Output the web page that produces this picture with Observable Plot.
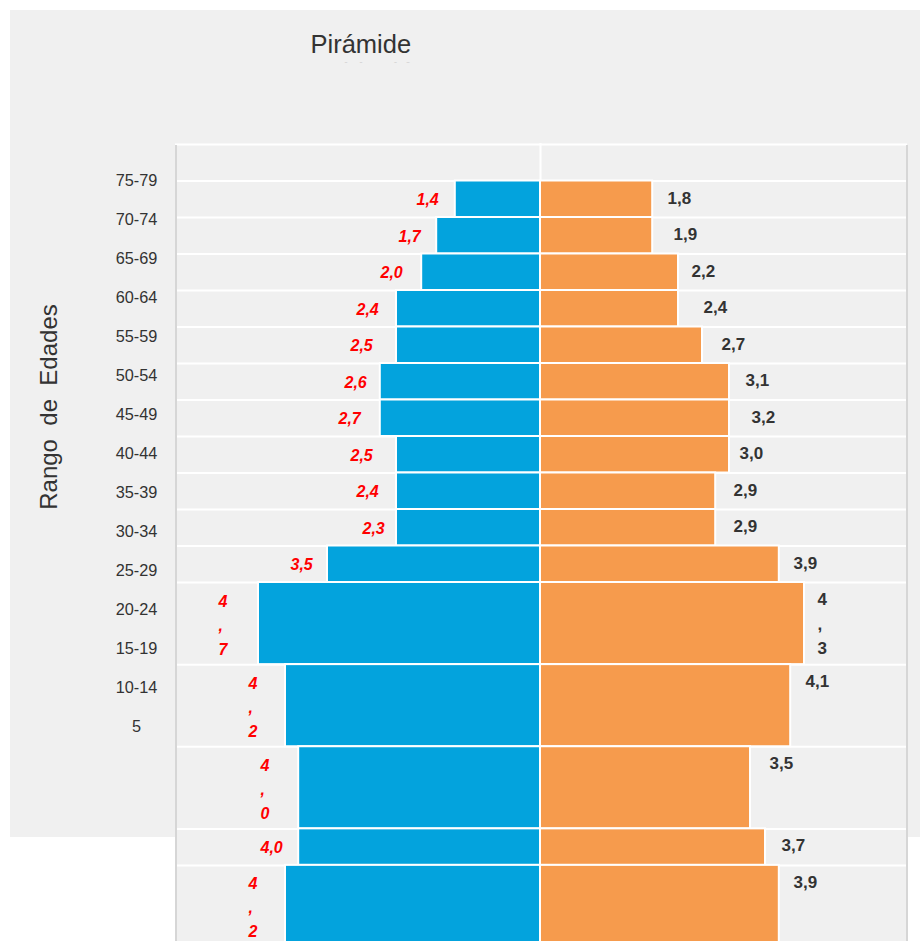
<!DOCTYPE html>
<html><head><meta charset="utf-8">
<script src="https://cdn.jsdelivr.net/npm/d3@7"></script>
<script src="https://cdn.jsdelivr.net/npm/@observablehq/plot@0.6"></script>
<style>
html,body{margin:0;padding:0;background:#fff;}
body{width:920px;height:941px;position:relative;overflow:hidden;font-family:"Liberation Sans",Arial,sans-serif;}
#panel{position:absolute;left:10px;top:10px;width:910px;height:827px;background:#f0f0f0;}
#deco{position:absolute;left:0;top:0;}
#ages{position:absolute;left:100px;top:160px;}
#chart{position:absolute;left:175px;top:143px;width:732px;height:798px;background:#f0f0f0;}
.bl{position:absolute;top:145px;height:796px;width:1.5px;background:#d6d6d6;}
svg text{font-family:"Liberation Sans",Arial,sans-serif;}
</style></head><body>
<div id="panel"></div>
<svg id="deco" width="920" height="941">
  <defs><clipPath id="sc"><rect x="0" y="0" width="920" height="62.5"/></clipPath></defs>
  <text x="310.5" y="53" font-size="25.5" fill="#333">Pirámide</text>
  <text x="310" y="81.5" font-size="27" fill="#c4c4c4" clip-path="url(#sc)">Población 2014</text>
  <text transform="translate(57,407) rotate(-90)" text-anchor="middle" font-size="24" fill="#333" style="white-space:pre">Rango  de  Edades</text>
</svg>
<div id="ages"></div>
<div id="chart"></div>
<div class="bl" style="left:175px"></div>
<div class="bl" style="left:906px"></div>
<script>
// Age tick labels (left axis)
const ageLabels = ["75-79","70-74","65-69","60-64","55-59","50-54","45-49","40-44","35-39","30-34","25-29","20-24","15-19","10-14","5"];
// Bar lengths (top row first)
const leftValues  = [1.42,1.73,1.98,2.40,2.40,2.67,2.67,2.40,2.40,2.40,3.55,4.70,4.25,4.03,4.03,4.25];
const rightValues = [1.87,1.87,2.30,2.30,2.70,3.15,3.15,3.15,2.92,2.92,3.98,4.40,4.17,3.50,3.75,3.98];
// Value labels as printed
const leftLabels  = ["1,4","1,7","2,0","2,4","2,5","2,6","2,7","2,5","2,4","2,3","3,5","4,7","4,2","4,0","4,0","4,2"];
const rightLabels = ["1,8","1,9","2,2","2,4","2,7","3,1","3,2","3,0","2,9","2,9","3,9","4,3","4,1","3,5","3,7","3,9"];
// Labels that are wrapped one character per line in the picture
const leftWrapped  = [false,false,false,false,false,false,false,false,false,false,false,true,true,true,false,true];
const rightWrapped = [false,false,false,false,false,false,false,false,false,false,false,true,false,false,false,false];

const BLUE = "#03a3dd", ORANGE = "#f69b4d";
const toNum = s => +s.replace(",", ".");
const stack = s => s.split("").join("\n");

let cur = 1; // header row occupies the first unit
const rows = leftValues.map((lv, i) => {
  const h = (leftWrapped[i] || rightWrapped[i]) ? 2.25 : 1;
  const r = {lv, rv: rightValues[i], ll: leftLabels[i], rl: rightLabels[i],
             lw: leftWrapped[i], rw: rightWrapped[i], y1: cur, y2: cur + h};
  cur += h;
  return r;
});
const bounds = [0, 1, ...rows.map(r => r.y2)];

const chart = Plot.plot({
  width: 732, height: 798,
  marginTop: 0, marginBottom: 0, marginLeft: 0, marginRight: 0,
  style: {background: "transparent", overflow: "visible"},
  x: {domain: [-365/60, 367/60], range: [0, 732], axis: null},
  y: {domain: [0, 797/36.5], range: [1, 798], axis: null},
  marks: [
    Plot.ruleY(bounds, {y: d => d, stroke: "white", strokeWidth: 2}),
    Plot.ruleX([0], {x: d => d, stroke: "white", strokeWidth: 2}),
    Plot.rect(rows, {x1: () => 0, x2: d => -d.lv, y1: "y1", y2: "y2", fill: BLUE, stroke: "white", strokeWidth: 2}),
    Plot.rect(rows, {x1: () => 0, x2: d => d.rv, y1: "y1", y2: "y2", fill: ORANGE, stroke: "white", strokeWidth: 2}),
    Plot.text(rows, {x: d => -toNum(d.ll), y: "y1", text: d => d.lw ? stack(d.ll) : d.ll,
      textAnchor: "start", lineAnchor: "top", dx: -40, dy: 7, lineHeight: 1.5,
      fill: "#ff0000", fontWeight: "bold", fontStyle: "italic", fontSize: 16}),
    Plot.text(rows, {x: d => toNum(d.rl), y: "y1", text: d => d.rw ? stack(d.rl) : d.rl,
      textAnchor: "start", lineAnchor: "top", dx: 19, dy: 5, lineHeight: 1.45,
      fill: "#333", fontWeight: "bold", fontSize: 17})
  ]
});
document.getElementById("chart").appendChild(chart);

const ages = Plot.plot({
  width: 72, height: 590,
  marginTop: 0, marginBottom: 0, marginLeft: 0, marginRight: 0,
  style: {background: "transparent", overflow: "visible"},
  y: {type: "point", domain: ageLabels, range: [15.5, 570], padding: 0, axis: null},
  marks: [
    Plot.text(ageLabels, {y: d => d, text: d => d, frameAnchor: "middle", fontSize: 16.3, fill: "#333"})
  ]
});
document.getElementById("ages").appendChild(ages);
</script>
</body></html>
